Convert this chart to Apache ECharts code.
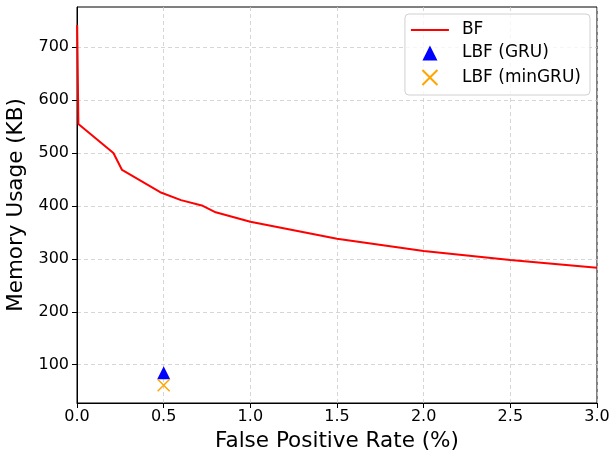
<!DOCTYPE html>
<html>
<head>
<meta charset="utf-8">
<script src="https://cdn.jsdelivr.net/npm/echarts@6/dist/echarts.min.js"></script>
<style>
  html, body { margin: 0; padding: 0; background: #fff; }
  #chart { width: 612px; height: 452px; }
</style>
</head>
<body>
<div id="chart"></div>
<script>
// BF curve: false positive rate (%) vs memory (KB)
const bfFpr = [0.001, 0.008, 0.21, 0.26, 0.48, 0.6, 0.72, 0.8, 1.0, 1.5, 2.0, 2.5, 3.0];
const bfMem = [742, 555, 500, 468, 426, 411, 401, 388, 370, 338, 315, 298, 283];

const gruPoint = [0.5, 85];
const minGruPoint = [0.5, 61];

const yTicks = [100, 200, 300, 400, 500, 600, 700];

const font = 'DejaVu Sans';
const trianglePath = 'path://M5,0L10,10L0,10Z';
const crossPath = 'path://M0,0L10,10M10,0L0,10';

const chart = echarts.init(document.getElementById('chart'));

const option = {
  animation: false,
  textStyle: { fontFamily: font },
  grid: {
    left: 77, right: 15, top: 7, bottom: 49,
    outerBoundsMode: 'none',
    containLabel: false,
    show: true, borderColor: '#000', borderWidth: 1
  },
  legend: {
    right: 22, top: 14,
    orient: 'vertical',
    padding: [7.5, 9, 7.5, 5],
    itemGap: 6,
    itemWidth: 38, itemHeight: 15,
    symbolKeepAspect: true,
    borderColor: '#d0d0d0', borderWidth: 1, borderRadius: 4,
    backgroundColor: 'rgba(255,255,255,0.8)',
    textStyle: { fontFamily: font, fontSize: 17, color: '#000', padding: [0, 0, 0, 8] },
    data: [
      { name: 'BF', itemStyle: { opacity: 0 } },
      { name: 'LBF (GRU)', icon: trianglePath },
      { name: 'LBF (minGRU)', icon: crossPath }
    ]
  },
  xAxis: {
    type: 'value',
    min: 0, max: 3, interval: 0.5,
    name: 'False Positive Rate (%)',
    nameLocation: 'middle', nameGap: 27,
    nameTextStyle: { fontFamily: font, fontSize: 21.5, color: '#000' },
    axisLine: { lineStyle: { color: '#000' } },
    axisTick: { show: true, length: 5, lineStyle: { color: '#000' } },
    axisLabel: { fontFamily: font, fontSize: 16, color: '#000', margin: 6,
      formatter: v => v.toFixed(1) },
    splitLine: { show: true, lineStyle: { color: '#cccccc', type: [4, 3], width: 0.8 } }
  },
  yAxis: {
    type: 'value',
    min: 27.6, max: 776,
    name: 'Memory Usage (KB)',
    nameLocation: 'middle', nameGap: 47,
    nameTextStyle: { fontFamily: font, fontSize: 21.5, color: '#000' },
    axisLine: { show: true, lineStyle: { color: '#000' } },
    axisTick: { show: true, length: 5, lineStyle: { color: '#000' }, customValues: yTicks },
    axisLabel: { fontFamily: font, fontSize: 16, color: '#000', margin: 8, customValues: yTicks },
    splitLine: { show: true, lineStyle: { color: '#cccccc', type: [4, 3], width: 0.8 } }
  },
  series: [
    {
      name: 'BF',
      type: 'line',
      data: bfFpr.map((x, i) => [x, bfMem[i]]),
      symbol: 'none',
      lineStyle: { color: '#ff0000', width: 2 },
      itemStyle: { color: '#ff0000' },
      z: 3
    },
    {
      name: 'LBF (GRU)',
      type: 'scatter',
      data: [gruPoint],
      symbol: trianglePath,
      symbolSize: [13, 13],
      itemStyle: { color: '#0000ff', opacity: 1 },
      z: 4
    },
    {
      name: 'LBF (minGRU)',
      type: 'scatter',
      data: [minGruPoint],
      symbol: crossPath,
      symbolSize: 12,
      itemStyle: { color: 'none', borderColor: '#ffa500', borderWidth: 1.5, opacity: 1 },
      z: 4
    }
  ]
};
chart.setOption(option);
</script>
</body>
</html>
